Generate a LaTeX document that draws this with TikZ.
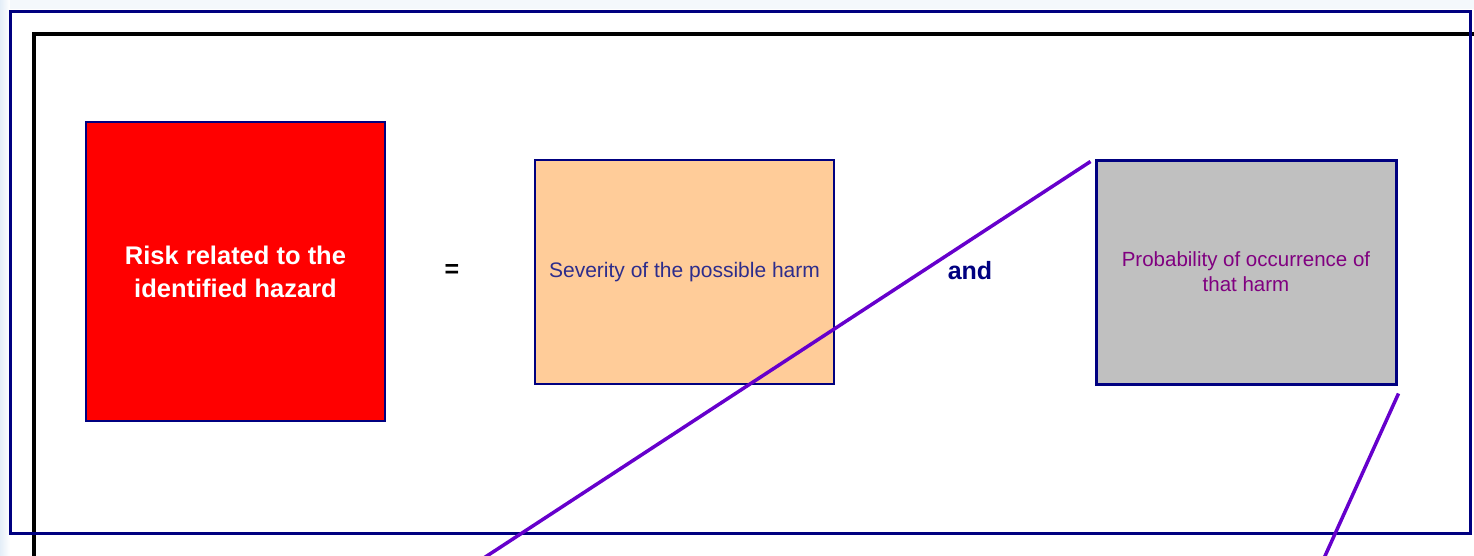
\documentclass[tikz,border=0pt]{standalone}
\usepackage{fontspec}
\setmainfont{Liberation Sans}
\usetikzlibrary{calc}
\definecolor{navyline}{RGB}{0,0,128}
\definecolor{peach}{RGB}{255,204,153}
\definecolor{greybox}{RGB}{192,192,192}
\definecolor{sevtext}{RGB}{45,45,140}
\definecolor{probtext}{RGB}{128,0,128}
\definecolor{violetline}{RGB}{102,0,204}
\definecolor{paleblue}{RGB}{228,238,248}
\tikzset{
  box/.style={draw=navyline, inner sep=0pt, align=center},
  frameblue/.style={draw=navyline, line width=3pt},
  frameblack/.style={draw=black, line width=4pt},
  slash/.style={draw=violetline, line width=3.5pt},
}
\begin{document}
\begin{tikzpicture}[x=1pt,y=-1pt]
\useasboundingbox (0,0) rectangle (1474,555);
\clip (0,0) rectangle (1474,555);
\fill[white] (0,0) rectangle (1474,555);
\shade[left color=paleblue, right color=white] (0,0) rectangle (10,555);
\fill[paleblue!40] (10,0) rectangle (1474,9);
\fill[white] (10,11) rectangle (1470,533);
% frames
\draw[frameblack] (34,600) -- (34,34) -- (1500,34);
\draw[frameblue] (10,11) rectangle (1470,533);
% boxes
\node[box, fill=red, line width=2pt, minimum width=299, minimum height=299,
      text=white, font=\fontsize{25.5}{33}\selectfont\bfseries] (risk) at (235.5,271.8)
      {Risk related to the\\identified hazard};
\node[font=\fontsize{25}{30}\selectfont\bfseries] (eq) at (452,271) {=};
\node[box, fill=peach, line width=2.5pt, minimum width=299, minimum height=224,
      text=sevtext, font=\fontsize{21}{25}\selectfont] (sev) at (684.5,272)
      {Severity of the possible harm};
\node[text=navyline, font=\fontsize{25}{30}\selectfont\bfseries] (and) at (970,271) {and};
\node[box, fill=greybox, line width=3pt, minimum width=300, minimum height=224,
      text=probtext, font=\fontsize{20.5}{25}\selectfont] (prob) at (1246,272)
      {Probability of occurrence of\\that harm};
% violet strokes
\coordinate (s1a) at ($(prob.north west)+(-4,3)$);
\coordinate (s1c) at (470,567);
\coordinate (s2a) at ($(prob.south east)+(1,8)$);
\coordinate (s2b) at (1320,567);
\draw[slash] (s1a) -- (s1c);
\draw[slash] (s2a) -- (s2b);
\end{tikzpicture}
\end{document}
